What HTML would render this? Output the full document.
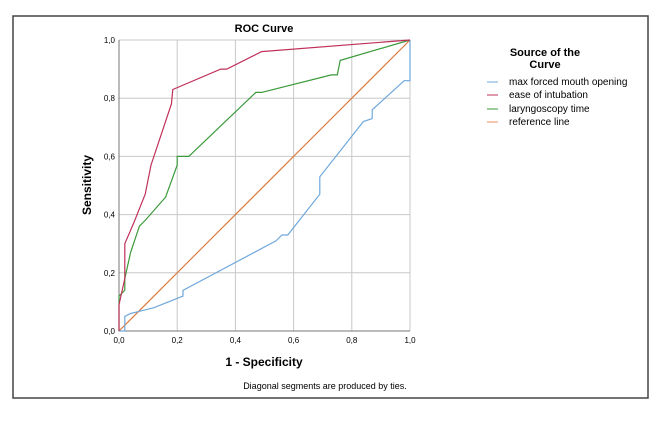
<!DOCTYPE html>
<html><head><meta charset="utf-8"><style>
body{margin:0;background:#fff;}
svg text{font-family:"Liberation Sans",Arial,sans-serif;}
</style></head><body>
<svg id="chart" width="669" height="417" viewBox="0 0 669 417">
<rect x="13" y="16" width="635" height="382" fill="#fff" stroke="#444" stroke-width="1.5"/>
<g id="grid"></g>
<g id="ticks"></g>
<g id="series"></g>
<text x="264" y="32" text-anchor="middle" font-size="11" font-weight="bold">ROC Curve</text>
<text transform="translate(91,185) rotate(-90)" text-anchor="middle" font-size="12" font-weight="bold">Sensitivity</text>
<text x="264" y="366" text-anchor="middle" font-size="12" font-weight="bold">1 - Specificity</text>
<text x="325" y="389" text-anchor="middle" font-size="9">Diagonal segments are produced by ties.</text>
<g font-size="10">
<text x="545" y="56" text-anchor="middle" font-size="11" font-weight="bold">Source of the</text>
<text x="545" y="68" text-anchor="middle" font-size="11" font-weight="bold">Curve</text>
<line x1="487" x2="498" y1="82" y2="82" stroke="#6fa8dc"/>
<text x="509" y="85">max forced mouth opening</text>
<line x1="487" x2="498" y1="95" y2="95" stroke="#c0305a"/>
<text x="509" y="98">ease of intubation</text>
<line x1="487" x2="498" y1="109" y2="109" stroke="#3a9a3a"/>
<text x="509" y="112">laryngoscopy time</text>
<line x1="487" x2="498" y1="122" y2="122" stroke="#e89060"/>
<text x="509" y="125">reference line</text>
</g>
</svg>
<script>
const tickVals=[0,0.2,0.4,0.6,0.8,1.0];
const tickLabels=["0,0","0,2","0,4","0,6","0,8","1,0"];
const mouthX=[0,0.02,0.02,0.04,0.06,0.12,0.22,0.22,0.54,0.56,0.58,0.69,0.69,0.84,0.87,0.87,0.98,1,1];
const mouthY=[0,0,0.05,0.06,0.065,0.08,0.12,0.14,0.31,0.33,0.33,0.47,0.53,0.72,0.73,0.76,0.86,0.86,1];
const easeX=[0,0,0.02,0.02,0.05,0.09,0.11,0.18,0.185,0.35,0.37,0.49,1];
const easeY=[0,0.09,0.18,0.3,0.37,0.47,0.57,0.78,0.83,0.9,0.9,0.96,1];
const laryX=[0,0,0.02,0.02,0.04,0.07,0.09,0.16,0.2,0.2,0.24,0.47,0.49,0.73,0.75,0.76,1];
const laryY=[0,0.12,0.14,0.18,0.27,0.36,0.38,0.46,0.57,0.6,0.6,0.82,0.82,0.88,0.88,0.93,1];
const refX=[0,1];
const refY=[0,1];
const X0=119,X1=410,Y0=331,Y1=40;
const sx=v=>X0+v*(X1-X0), sy=v=>Y0-v*(Y0-Y1);
const NS="http://www.w3.org/2000/svg";
const grid=document.getElementById('grid'),ticks=document.getElementById('ticks'),ser=document.getElementById('series');
function mk(tag,attrs,parent){const e=document.createElementNS(NS,tag);for(const k in attrs)e.setAttribute(k,attrs[k]);parent.appendChild(e);return e;}
tickVals.forEach((v,i)=>{
  const gv=mk('line',{x1:sx(v),x2:sx(v),y1:Y1,y2:Y0,stroke:'#c8c8c8','stroke-width':1},grid);
  
  
  const gh=mk('line',{x1:X0,x2:X1,y1:sy(v),y2:sy(v),stroke:'#c8c8c8','stroke-width':1},grid);
  
  
  const tx=mk('text',{x:sx(v),y:Y0+12,'text-anchor':'middle','font-size':8},ticks);
  tx.textContent=tickLabels[i];
  
  
  const ty=mk('text',{x:X0-4,y:sy(v)+3,'text-anchor':'end','font-size':8},ticks);
  ty.textContent=tickLabels[i];
  
  
});
const ax=mk('path',{d:`M${X0},${Y1}V${Y0}H${X1}`,fill:'none',stroke:'#777','stroke-width':1},grid);


function line(xs,ys,color,name){
  const d=xs.map((x,i)=>(i?'L':'M')+sx(x).toFixed(1)+','+sy(ys[i]).toFixed(1)).join('');
  const p=mk('path',{d:d,fill:'none',stroke:color,'stroke-width':1.2},ser);
  
  
}
line(refX,refY,'#e07a40','reference-line');
line(mouthX,mouthY,'#6fa8dc','mouth-opening-curve');
line(laryX,laryY,'#3a9a3a','laryngoscopy-time-curve');
line(easeX,easeY,'#c0305a','ease-of-intubation-curve');
</script>
</body></html>
